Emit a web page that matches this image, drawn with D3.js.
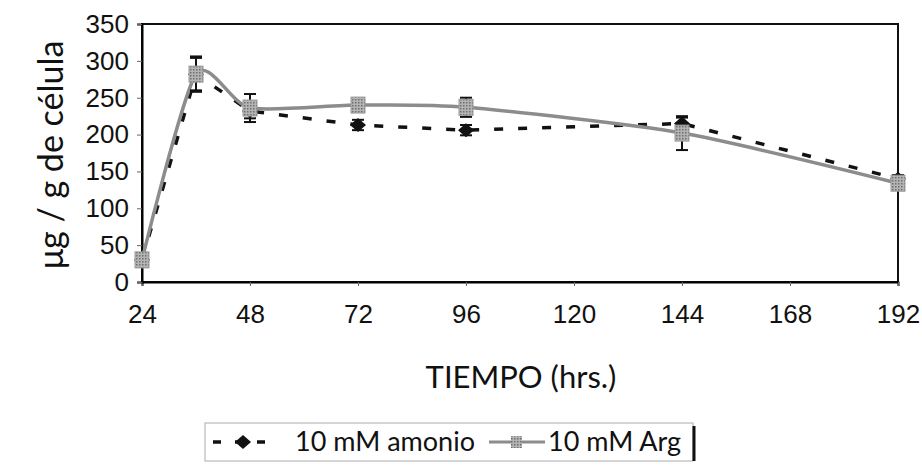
<!DOCTYPE html>
<html lang="es">
<head>
  <meta charset="UTF-8">
  <title>Tiempo vs ug/g</title>
  <script src="https://cdn.jsdelivr.net/npm/d3@7"></script>
  <style>
    body { margin: 0; background: #fff; }
    .title { font-family: 'Lato', 'Open Sans', sans-serif; fill: #111; }
  </style>
</head>
<body>
  <div id="chart"></div>
  <script>
    // data
    const hours = [24, 36, 48, 72, 96, 144, 192];
    const amonio = [30, 282, 232, 213, 206, 215, 140];
    const amonioErr = [5, 22, 10, 7, 7, 8, 5];
    const arg = [30, 282, 236, 240, 237, 202, 134];
    const argErr = [5, 24, 19, 8, 13, 23, 6];
    const xTicks = [24, 48, 72, 96, 120, 144, 168, 192];
    const yTicks = [0, 50, 100, 150, 200, 250, 300, 350];

    const W = 922, H = 470;
    const margin = { top: 24, right: 24, bottom: 188, left: 142 };
    const width = W - margin.left - margin.right;
    const height = H - margin.top - margin.bottom;

    const svg = d3.select('#chart').append('svg')
      .attr('width', W).attr('height', H);

    // dotted grey texture for the Arg squares
    const defs = svg.append('defs');
    const pat = defs.append('pattern')
      .attr('id', 'argfill').attr('width', 3).attr('height', 3)
      .attr('patternUnits', 'userSpaceOnUse');
    pat.append('rect').attr('width', 3).attr('height', 3).attr('fill', '#b4b4b4');
    pat.append('rect').attr('width', 1.5).attr('height', 1.5).attr('fill', '#6e6e6e');

    const g = svg.append('g').attr('transform', `translate(${margin.left},${margin.top})`);

    const x = d3.scaleLinear().domain([24, 192]).range([0, width]);
    const y = d3.scaleLinear().domain([0, 350]).range([height, 0]);

    // frame
    g.append('rect')
      .attr('width', width).attr('height', height)
      .attr('fill', 'none').attr('stroke', '#111').attr('stroke-width', 2);

    const styleAxis = a => {
      a.select('.domain').attr('stroke-width', 2);
      a.selectAll('.tick line').attr('stroke', '#666');
      a.selectAll('.tick text')
        .style('font-family', "'Liberation Sans', Arial, sans-serif")
        .style('font-size', '26px')
        .attr('fill', '#111');
    };

    g.append('g')
      .attr('transform', `translate(0,${height})`)
      .call(d3.axisBottom(x).tickValues(xTicks).tickSize(4).tickPadding(19))
      .call(styleAxis);

    g.append('g')
      .call(d3.axisLeft(y).tickValues(yTicks).tickSize(5).tickPadding(8))
      .call(styleAxis);

    const amonioPts = hours.map((h, i) => ({ h, v: amonio[i], e: amonioErr[i] }));
    const argPts = hours.map((h, i) => ({ h, v: arg[i], e: argErr[i] }));

    // amonio: dashed straight line
    g.append('path')
      .datum(amonioPts)
      .attr('fill', 'none')
      .attr('stroke', '#111')
      .attr('stroke-width', 3.5)
      .attr('stroke-dasharray', '9,15')
      .attr('d', d3.line().x(d => x(d.h)).y(d => y(d.v)));

    // Arg: smoothed grey line
    g.append('path')
      .datum(argPts)
      .attr('fill', 'none')
      .attr('stroke', '#8c8c8c')
      .attr('stroke-width', 3.5)
      .attr('d', d3.line().curve(d3.curveCardinal.tension(0.3)).x(d => x(d.h)).y(d => y(d.v)));

    // error bars
    function errBars(pts) {
      const eb = g.append('g').attr('stroke', '#111').attr('stroke-width', 2);
      pts.forEach(d => {
        const cx = x(d.h);
        eb.append('line').attr('x1', cx).attr('x2', cx).attr('y1', y(d.v - d.e)).attr('y2', y(d.v + d.e));
        eb.append('line').attr('x1', cx - 6).attr('x2', cx + 6).attr('y1', y(d.v + d.e)).attr('y2', y(d.v + d.e));
        eb.append('line').attr('x1', cx - 6).attr('x2', cx + 6).attr('y1', y(d.v - d.e)).attr('y2', y(d.v - d.e));
      });
    }
    errBars(amonioPts);
    errBars(argPts);

    // markers
    const diamond = 'M0,-7L8,0L0,7L-8,0Z';
    g.selectAll('.amonio-pt')
      .data(amonioPts).enter().append('path')
      .attr('class', 'amonio-pt')
      .attr('transform', d => `translate(${x(d.h)},${y(d.v)})`)
      .attr('d', diamond)
      .attr('fill', '#111');

    g.selectAll('.arg-pt')
      .data(argPts).enter().append('rect')
      .attr('class', 'arg-pt')
      .attr('x', d => x(d.h) - 7).attr('y', d => y(d.v) - 8)
      .attr('width', 14).attr('height', 16)
      .attr('fill', 'url(#argfill)')
      .attr('stroke', '#9a9a9a').attr('stroke-width', 1);

    // axis titles
    svg.append('text')
      .attr('class', 'title')
      .attr('transform', `translate(63,${margin.top + height / 2 + 2}) rotate(-90)`)
      .attr('text-anchor', 'middle')
      .style('font-size', '34px')
      .text('μg / g de célula');

    svg.append('text')
      .attr('class', 'title')
      .attr('x', 521).attr('y', 388)
      .attr('text-anchor', 'middle')
      .style('font-size', '31px')
      .text('TIEMPO (hrs.)');

    // legend
    const lg = svg.append('g').attr('transform', 'translate(205,423)');
    lg.append('rect')
      .attr('width', 488).attr('height', 38)
      .attr('fill', '#fff').attr('stroke', '#aaa').attr('stroke-width', 1);
    lg.append('line')
      .attr('x1', 489).attr('x2', 489).attr('y1', 3).attr('y2', 38)
      .attr('stroke', '#111').attr('stroke-width', 3);

    lg.append('line')
      .attr('x1', 8).attr('x2', 68).attr('y1', 19).attr('y2', 19)
      .attr('stroke', '#111').attr('stroke-width', 3.5)
      .attr('stroke-dasharray', '8,14');
    lg.append('path')
      .attr('transform', 'translate(38,19)')
      .attr('d', diamond)
      .attr('fill', '#111');
    lg.append('text')
      .attr('class', 'title')
      .attr('x', 90).attr('y', 28)
      .style('font-size', '27px')
      .text('10 mM amonio');

    lg.append('line')
      .attr('x1', 284).attr('x2', 340).attr('y1', 19).attr('y2', 19)
      .attr('stroke', '#8c8c8c').attr('stroke-width', 3);
    lg.append('rect')
      .attr('x', 306).attr('y', 13).attr('width', 11).attr('height', 12)
      .attr('fill', 'url(#argfill)');
    lg.append('text')
      .attr('class', 'title')
      .attr('x', 343).attr('y', 28)
      .style('font-size', '27px')
      .text('10 mM Arg');
  </script>
</body>
</html>
